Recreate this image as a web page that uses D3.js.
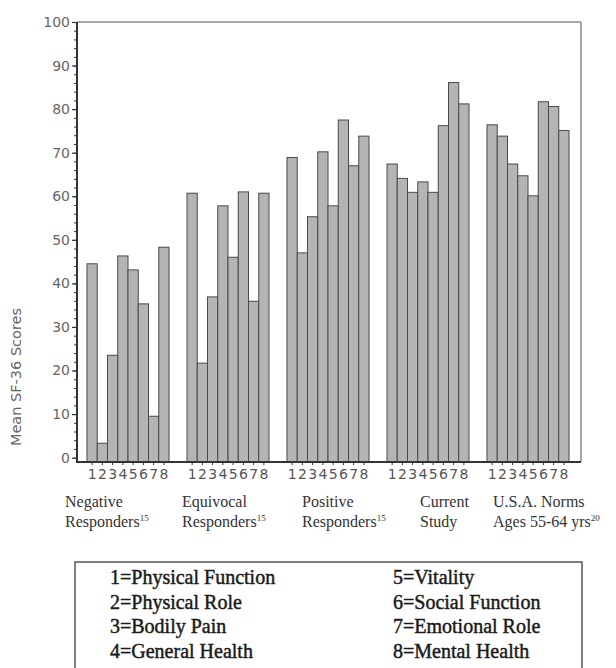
<!DOCTYPE html>
<html>
<head>
<meta charset="utf-8">
<script src="https://cdnjs.cloudflare.com/ajax/libs/d3/7.8.5/d3.min.js"></script>
<style>
  body { margin: 0; background: #fff; }
  svg { display: block; }
</style>
</head>
<body>
<script>
// SF-36 subscale numbers shown under each group
var scaleTicks = ["1", "2", "3", "4", "5", "6", "7", "8"];

// group names (two lines) and reference superscripts
var groupLine1 = ["Negative", "Equivocal", "Positive", "Current", "U.S.A. Norms"];
var groupLine2 = ["Responders", "Responders", "Responders", "Study", "Ages 55-64 yrs"];
var groupRef = ["15", "15", "15", "", "20"];

// mean scores per group, subscales 1..8
var negative = [44.5, 3.3, 23.5, 46.3, 43.1, 35.3, 9.5, 48.3];
var equivocal = [60.7, 21.7, 36.9, 57.8, 46.0, 61.0, 35.9, 60.7];
var positive = [68.9, 47.0, 55.3, 70.2, 57.8, 77.5, 67.0, 73.8];
var current = [67.4, 64.1, 60.9, 63.3, 60.9, 76.2, 86.1, 81.2];
var usaNorms = [76.4, 73.8, 67.4, 64.7, 60.1, 81.7, 80.6, 75.1];

var yTicks = [0, 10, 20, 30, 40, 50, 60, 70, 80, 90, 100];

var legendLeft = ["1=Physical Function", "2=Physical Role", "3=Bodily Pain", "4=General Health"];
var legendRight = ["5=Vitality", "6=Social Function", "7=Emotional Role", "8=Mental Health"];

function drawChart() {
    var width = 616,
        height = 668;
    var plot = { left: 77, right: 581, top: 22, bottom: 462 };
    // left edges of the group captions, as placed in the figure
    var captionX = [65, 182, 302, 420, 493];

    var series = [negative, equivocal, positive, current, usaNorms];
    var groupIdx = d3.range(groupLine1.length);

    var svg = d3.select("body")
        .append("svg")
        .attr("width", width)
        .attr("height", height);

    svg.append("rect")
        .attr("width", width)
        .attr("height", height)
        .attr("fill", "#fff");

    var y = d3.scaleLinear()
        .domain([-1, 100])
        .range([plot.bottom, plot.top]);

    var x0 = d3.scaleBand()
        .domain(groupIdx)
        .range([78, 578])
        .paddingInner(0.18)
        .paddingOuter(0.09);

    var x1 = d3.scaleBand()
        .domain(scaleTicks)
        .range([0, x0.bandwidth()]);

    // bars
    var g = svg.selectAll("g.group")
        .data(groupIdx)
        .enter()
        .append("g")
        .attr("class", "group")
        .attr("transform", function (d) { return "translate(" + x0(d) + ",0)"; });

    g.selectAll("rect")
        .data(function (d) { return series[d]; })
        .enter()
        .append("rect")
        .attr("x", function (d, i) { return x1(scaleTicks[i]); })
        .attr("y", function (d) { return y(d); })
        .attr("width", x1.bandwidth())
        .attr("height", function (d) { return y(-1) - y(d); })
        .attr("fill", "#b4b4b4")
        .attr("stroke", "#4a4a4a")
        .attr("stroke-width", 1);

    // frame top and right
    svg.append("line")
        .attr("x1", plot.left).attr("x2", plot.right)
        .attr("y1", plot.top).attr("y2", plot.top)
        .attr("stroke", "#8a8a8a").attr("stroke-width", 1.5);
    svg.append("line")
        .attr("x1", plot.right).attr("x2", plot.right)
        .attr("y1", plot.top).attr("y2", plot.bottom)
        .attr("stroke", "#8a8a8a").attr("stroke-width", 1.5);

    // y axis: minor ticks every 2, labelled every 10
    var yAxis = svg.append("g")
        .attr("transform", "translate(" + plot.left + ",0)")
        .call(d3.axisLeft(y).tickValues(d3.range(0, 101, 2)).tickSize(3).tickFormat(""));
    yAxis.select(".domain").remove();
    yAxis.selectAll("line").attr("stroke", "#333");

    var yMajor = svg.append("g")
        .attr("transform", "translate(" + plot.left + ",0)")
        .call(d3.axisLeft(y).tickValues(yTicks).tickSize(5).tickPadding(2));
    yMajor.select(".domain").remove();
    yMajor.selectAll("line").attr("stroke", "#333").attr("stroke-width", 1.2);
    yMajor.selectAll("text")
        .style("font-family", "DejaVu Sans")
        .style("font-size", "14px")
        .attr("fill", "#666");

    svg.append("line")
        .attr("x1", plot.left).attr("x2", plot.left)
        .attr("y1", plot.top).attr("y2", plot.bottom)
        .attr("stroke", "#333").attr("stroke-width", 2);

    // x axis line with subscale ticks and numbers
    svg.append("line")
        .attr("x1", plot.left - 1).attr("x2", plot.right)
        .attr("y1", plot.bottom).attr("y2", plot.bottom)
        .attr("stroke", "#333").attr("stroke-width", 2);

    groupIdx.forEach(function (gi) {
        var ax = svg.append("g")
            .attr("transform", "translate(" + x0(gi) + "," + plot.bottom + ")")
            .call(d3.axisBottom(x1).tickSize(3).tickPadding(4));
        ax.select(".domain").remove();
        ax.selectAll("line").attr("stroke", "#333");
        ax.selectAll("text")
            .style("font-family", "DejaVu Sans")
            .style("font-size", "14px")
            .attr("fill", "#555");
    });

    // group captions
    var cap = svg.selectAll("g.caption")
        .data(groupIdx)
        .enter()
        .append("g")
        .attr("class", "caption")
        .style("font-family", "Liberation Serif")
        .style("font-size", "16px")
        .attr("fill", "#333");

    cap.append("text")
        .attr("x", function (d) { return captionX[d]; })
        .attr("y", 507)
        .text(function (d) { return groupLine1[d]; });

    var l2 = cap.append("text")
        .attr("x", function (d) { return captionX[d]; })
        .attr("y", 527);
    l2.append("tspan").text(function (d) { return groupLine2[d]; });
    l2.append("tspan")
        .attr("dy", -6)
        .style("font-size", "9px")
        .text(function (d) { return groupRef[d]; });

    // y axis title
    svg.append("text")
        .attr("transform", "translate(21,377) rotate(-90)")
        .attr("text-anchor", "middle")
        .style("font-family", "DejaVu Sans")
        .style("font-size", "14.5px")
        .attr("fill", "#666")
        .text("Mean SF-36 Scores");

    // legend box
    svg.append("rect")
        .attr("x", 75).attr("y", 562)
        .attr("width", 507).attr("height", 120)
        .attr("fill", "none")
        .attr("stroke", "#555")
        .attr("stroke-width", 1.5);

    var legend = svg.append("g")
        .style("font-family", "Liberation Serif")
        .style("font-size", "20px")
        .attr("fill", "#1a1a1a")
        .attr("stroke", "#1a1a1a")
        .attr("stroke-width", 0.45);

    legend.selectAll("text.left")
        .data(legendLeft)
        .enter()
        .append("text")
        .attr("class", "left")
        .attr("x", 110)
        .attr("y", function (d, i) { return 584 + i * 24.6; })
        .text(function (d) { return d; });

    legend.selectAll("text.right")
        .data(legendRight)
        .enter()
        .append("text")
        .attr("class", "right")
        .attr("x", 393)
        .attr("y", function (d, i) { return 584 + i * 24.6; })
        .text(function (d) { return d; });
}

drawChart();
</script>
</body>
</html>
